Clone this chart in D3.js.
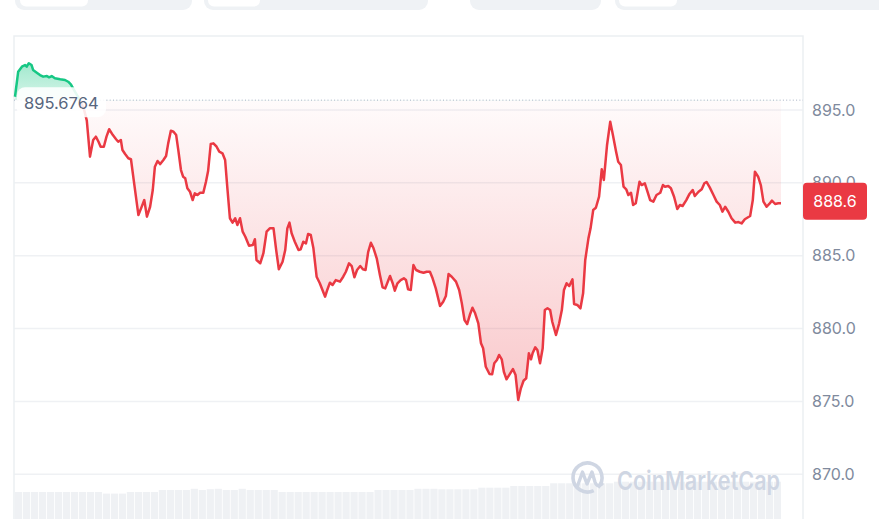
<!DOCTYPE html>
<html>
<head>
<meta charset="utf-8">
<script src="https://cdn.jsdelivr.net/npm/d3@7"></script>
<style>
  html, body { margin: 0; padding: 0; background: #fff; overflow: hidden; }
  svg { display: block; font-family: Inter, "Noto Sans", sans-serif; }
</style>
</head>
<body>
<svg id="chart" width="879" height="519"></svg>
<script>
// [minute of day, price]
const pricePoints = [
  [0, 895.91], [6, 897.63], [13, 897.97], [19, 898.09], [22, 897.97], [26, 898.21], [31, 898.09],
  [34, 897.75], [41, 897.56], [47, 897.40], [53, 897.29], [60, 897.33], [64, 897.24], [69, 897.33],
  [75, 897.18], [85, 897.11], [94, 897.06], [100, 896.94], [105, 896.76], [113, 896.24], [122, 895.69],
  [130, 895.00], [135, 894.27], [141, 891.80], [147, 892.94], [152, 893.17], [157, 892.82], [161, 892.48],
  [167, 892.48], [172, 893.17], [177, 893.68], [184, 893.28], [190, 892.99], [194, 892.82], [199, 892.94],
  [202, 892.25], [207, 891.98], [213, 891.69], [218, 891.62], [224, 889.97], [232, 887.79], [237, 888.25],
  [243, 888.82], [248, 887.68], [254, 888.36], [259, 889.51], [263, 891.11], [268, 891.50], [273, 891.29],
  [279, 891.57], [284, 891.84], [288, 892.71], [293, 893.58], [298, 893.51], [303, 893.28], [307, 892.25],
  [312, 890.88], [316, 890.42], [320, 890.31], [324, 889.63], [329, 889.39], [334, 888.82], [338, 889.28],
  [343, 889.17], [348, 889.32], [354, 889.32], [359, 890.08], [363, 890.81], [368, 892.67], [373, 892.71],
  [379, 892.48], [384, 892.14], [390, 892.03], [395, 891.57], [399, 889.74], [404, 887.57], [409, 887.27],
  [414, 887.57], [418, 887.11], [423, 887.57], [428, 886.65], [433, 886.30], [440, 885.69], [447, 885.73],
  [451, 886.13], [454, 884.71], [461, 884.48], [467, 885.17], [473, 886.65], [479, 886.88], [486, 886.88],
  [491, 885.39], [496, 884.07], [503, 884.59], [508, 885.39], [512, 886.88], [516, 887.27], [520, 886.54],
  [526, 885.96], [533, 885.39], [537, 885.44], [542, 885.96], [547, 885.85], [551, 886.49], [556, 886.42],
  [561, 885.51], [567, 883.56], [573, 883.11], [583, 882.19], [587, 882.65], [592, 883.15], [597, 882.99],
  [603, 883.33], [611, 883.22], [617, 883.56], [622, 883.90], [628, 884.48], [633, 884.29], [638, 883.52],
  [643, 884.02], [649, 884.29], [654, 884.07], [659, 884.02], [664, 885.27], [669, 885.89], [674, 885.51],
  [680, 884.82], [686, 883.68], [691, 882.83], [696, 882.76], [702, 883.33], [705, 883.61], [710, 883.11],
  [714, 882.60], [719, 883.11], [725, 883.33], [731, 883.45], [735, 883.33], [739, 882.69], [744, 882.65],
  [749, 884.36], [754, 884.02], [761, 883.90], [768, 883.83], [774, 883.90], [780, 883.90], [785, 883.45],
  [791, 882.76], [799, 881.55], [805, 881.84], [810, 882.23], [815, 883.74], [821, 883.56], [829, 883.22],
  [835, 882.65], [840, 881.73], [845, 880.59], [850, 880.31], [855, 880.93], [860, 881.43], [865, 881.05],
  [871, 880.36], [876, 878.99], [880, 878.65], [885, 877.38], [892, 876.88], [897, 876.86], [901, 877.62],
  [906, 877.84], [910, 878.19], [915, 877.89], [919, 877.04], [924, 876.52], [931, 876.93], [936, 877.22],
  [941, 876.81], [946, 875.10], [951, 875.90], [956, 876.42], [961, 876.59], [966, 878.30], [970, 877.89],
  [973, 878.30], [978, 878.71], [982, 878.53], [987, 877.62], [992, 878.65], [996, 881.27], [1001, 881.39],
  [1006, 881.27], [1010, 880.47], [1017, 879.56], [1023, 880.36], [1028, 881.27], [1032, 882.65], [1037, 883.11],
  [1042, 882.92], [1048, 883.38], [1051, 881.69], [1057, 881.62], [1063, 881.39], [1068, 882.42], [1072, 884.71],
  [1078, 886.19], [1082, 886.88], [1087, 888.14], [1092, 888.29], [1098, 889.05], [1103, 890.93], [1107, 890.20],
  [1113, 892.60], [1119, 894.20], [1124, 893.28], [1130, 892.14], [1134, 891.45], [1139, 891.23], [1144, 889.74],
  [1149, 889.56], [1153, 889.17], [1158, 889.32], [1162, 888.48], [1167, 888.60], [1174, 890.08], [1178, 889.85],
  [1184, 889.97], [1189, 889.39], [1194, 888.82], [1200, 888.71], [1206, 889.17], [1213, 889.32], [1218, 889.85],
  [1222, 889.74], [1228, 889.78], [1233, 889.63], [1239, 889.05], [1245, 888.21], [1250, 888.48], [1255, 888.41],
  [1262, 888.82], [1268, 889.24], [1274, 889.51], [1278, 889.10], [1285, 889.39], [1291, 889.56], [1296, 889.97],
  [1300, 890.06], [1306, 889.69], [1313, 889.17], [1319, 888.71], [1325, 888.48], [1330, 888.02], [1335, 888.36],
  [1341, 888.02], [1347, 887.57], [1354, 887.27], [1360, 887.31], [1366, 887.22], [1372, 887.50], [1382, 887.73],
  [1387, 888.82], [1391, 890.77], [1397, 890.42], [1402, 889.85], [1407, 888.71], [1413, 888.36], [1418, 888.55],
  [1423, 888.78], [1429, 888.55], [1435, 888.60], [1440, 888.60]
]

// volume, one bar per 15 minutes
const volumes = [
  85, 85, 85, 85, 85, 85, 85, 85, 85, 85, 85, 83, 83, 83, 85, 85, 85, 85,
  87.5, 87.5, 87.5, 87.5, 89, 87.5, 88.5, 89, 87.5, 87.5, 89, 87.5, 87.5, 87.5, 87.5,
  85, 85, 85, 85, 85, 85, 85, 85, 85, 85, 85, 85,
  87.5, 87.5, 87.5, 87.5, 87.5, 89, 89, 89,
  88.4, 88.4, 88.4, 88.4, 88.4, 90.4, 90.4, 90.4, 90.4,
  92.5, 92.5, 92.5, 92.5, 92.5,
  95.9, 95.9, 95.9, 95.9, 95.9, 95.9, 95.9, 95.9,
  97.9, 97.9, 97.9, 97.9, 97.9, 97.9, 97.9, 97.9, 97.9, 97.9, 97.9,
  97.9, 97.9, 97.9, 97.9, 97.9, 97.9, 97.9, 97.9, 97.9, 97.9
]

const yTicks = [870, 875, 880, 885, 890, 895]
const openPrice = 895.6764
const lastPrice = 888.6

const RED = '#ea3943'
const GREEN = '#16c784'

const frame = { left: 14, right: 803, top: 36, bottom: 519 }

const x = d3.scaleLinear().domain([0, 1440]).range([15, 781])
const y = d3.scaleLinear().domain([870, 895]).range([474.3, 110])
const xv = d3.scaleBand().domain(d3.range(volumes.length)).range([15, 781]).paddingInner(0.1)
const yv = d3.scaleLinear().domain([0, 100]).range([560, 480])

const svg = d3.select('#chart')
const defs = svg.append('defs')

// page tabs peeking in at the top
const tabs = [
  { x: 15, w: 177, pill: [20, 68] },
  { x: 204, w: 224, pill: [208, 52] },
  { x: 470, w: 131, pill: null },
  { x: 615, w: 290, pill: [619, 58] }
]
for (const t of tabs) {
  svg.append('rect').attr('x', t.x).attr('y', -20).attr('width', t.w).attr('height', 30)
    .attr('rx', 9).attr('fill', '#eff2f5')
  if (t.pill) {
    svg.append('rect').attr('x', t.pill[0]).attr('y', -15).attr('width', t.pill[1]).attr('height', 21.5)
      .attr('rx', 6).attr('fill', '#fff')
  }
}

// volume bars
svg.append('g')
  .selectAll('rect')
  .data(volumes)
  .join('rect')
  .attr('x', (d, i) => xv(i))
  .attr('y', d => yv(d))
  .attr('width', xv.bandwidth())
  .attr('height', d => yv(0) - yv(d))
  .attr('fill', '#eff1f4')

// grid + frame
svg.append('g')
  .selectAll('line')
  .data(yTicks)
  .join('line')
  .attr('x1', frame.left).attr('x2', frame.right)
  .attr('y1', d => y(d)).attr('y2', d => y(d))
  .attr('stroke', '#eff1f4').attr('stroke-width', 1.5)

svg.append('path')
  .attr('d', `M${frame.left},${frame.bottom}V${frame.top}H${frame.right}V${frame.bottom}`)
  .attr('fill', 'none').attr('stroke', '#eceff2').attr('stroke-width', 1.5)

// gradients
const redGrad = defs.append('linearGradient').attr('id', 'redFill')
  .attr('gradientUnits', 'userSpaceOnUse')
  .attr('x1', 0).attr('x2', 0).attr('y1', y(openPrice)).attr('y2', y(875))
redGrad.append('stop').attr('offset', 0).attr('stop-color', RED).attr('stop-opacity', 0.02)
redGrad.append('stop').attr('offset', 1).attr('stop-color', RED).attr('stop-opacity', 0.28)

const greenGrad = defs.append('linearGradient').attr('id', 'greenFill')
  .attr('gradientUnits', 'userSpaceOnUse')
  .attr('x1', 0).attr('x2', 0).attr('y1', y(898.2)).attr('y2', y(openPrice))
greenGrad.append('stop').attr('offset', 0).attr('stop-color', GREEN).attr('stop-opacity', 0.4)
greenGrad.append('stop').attr('offset', 1).attr('stop-color', GREEN).attr('stop-opacity', 0.18)

defs.append('clipPath').attr('id', 'above')
  .append('rect').attr('x', 0).attr('y', 0).attr('width', 879).attr('height', y(openPrice))
defs.append('clipPath').attr('id', 'below')
  .append('rect').attr('x', 0).attr('y', y(openPrice)).attr('width', 879).attr('height', 519)

const area = d3.area()
  .x(d => x(d[0]))
  .y0(y(openPrice))
  .y1(d => y(d[1]))
const line = d3.line()
  .x(d => x(d[0]))
  .y(d => y(d[1]))

svg.append('path').datum(pricePoints).attr('d', area)
  .attr('fill', 'url(#greenFill)').attr('clip-path', 'url(#above)')
svg.append('path').datum(pricePoints).attr('d', area)
  .attr('fill', 'url(#redFill)').attr('clip-path', 'url(#below)')

// watermark
const wm = svg.append('g').attr('fill', 'none').attr('stroke', '#cfd6e3')
wm.append('path')
  .attr('d', d3.arc()({ innerRadius: 14.5, outerRadius: 14.5, startAngle: 2.7, endAngle: 2.7 + Math.PI * 1.88 }))
  .attr('transform', 'translate(587.5,477.5)')
  .attr('stroke-width', 3.6)
wm.append('path')
  .attr('d', 'M577.5,486 L582.5,472 L587,484 L592,472 L595,482 Q597,488 602,484')
  .attr('stroke-width', 3.4).attr('stroke-linejoin', 'round').attr('stroke-linecap', 'round')
svg.append('text')
  .attr('x', 617).attr('y', 490)
  .attr('font-size', 26).attr('font-weight', 600)
  .attr('textLength', 163).attr('lengthAdjust', 'spacingAndGlyphs')
  .attr('fill', '#cfd6e3')
  .text('CoinMarketCap')

// price line
svg.append('path').datum(pricePoints).attr('d', line)
  .attr('fill', 'none').attr('stroke', GREEN).attr('stroke-width', 2.5)
  .attr('stroke-linejoin', 'round').attr('clip-path', 'url(#above)')
svg.append('path').datum(pricePoints).attr('d', line)
  .attr('fill', 'none').attr('stroke', RED).attr('stroke-width', 2.5)
  .attr('stroke-linejoin', 'round').attr('clip-path', 'url(#below)')

// open price reference
svg.append('line')
  .attr('x1', frame.left).attr('x2', frame.right)
  .attr('y1', y(openPrice)).attr('y2', y(openPrice))
  .attr('stroke', '#a6b0c3').attr('stroke-width', 1)
  .attr('stroke-dasharray', '1 2.3')

const openLabel = svg.append('g').attr('transform', `translate(17,${y(openPrice)})`)
openLabel.append('rect').attr('x', 0).attr('y', -13).attr('width', 89).attr('height', 30)
  .attr('rx', 8).attr('fill', '#fff').attr('fill-opacity', 0.88)
openLabel.append('text').attr('x', 7).attr('y', 9)
  .attr('font-size', 16.5).attr('fill', '#58667e')
  .text(d3.format('.4f')(openPrice))

// right axis
const axis = svg.append('g')
  .attr('transform', `translate(${frame.right},0)`)
  .call(d3.axisRight(y).tickValues(yTicks).tickSize(0).tickPadding(9).tickFormat(d3.format('.1f')))
axis.select('.domain').remove()
axis.selectAll('text')
  .attr('font-family', 'Inter, "Noto Sans", sans-serif')
  .attr('font-size', 16).attr('fill', '#808a9d')

// last price badge
const badge = svg.append('g').attr('transform', `translate(${frame.right},${y(lastPrice) - 2})`)
badge.append('rect').attr('x', 0).attr('y', -18.5).attr('width', 64).attr('height', 37)
  .attr('rx', 4).attr('fill', RED)
badge.append('text').attr('x', 32).attr('y', 0)
  .attr('text-anchor', 'middle').attr('dominant-baseline', 'central')
  .attr('font-size', 16).attr('fill', '#fff')
  .text(d3.format('.1f')(lastPrice))
</script>
</body>
</html>
